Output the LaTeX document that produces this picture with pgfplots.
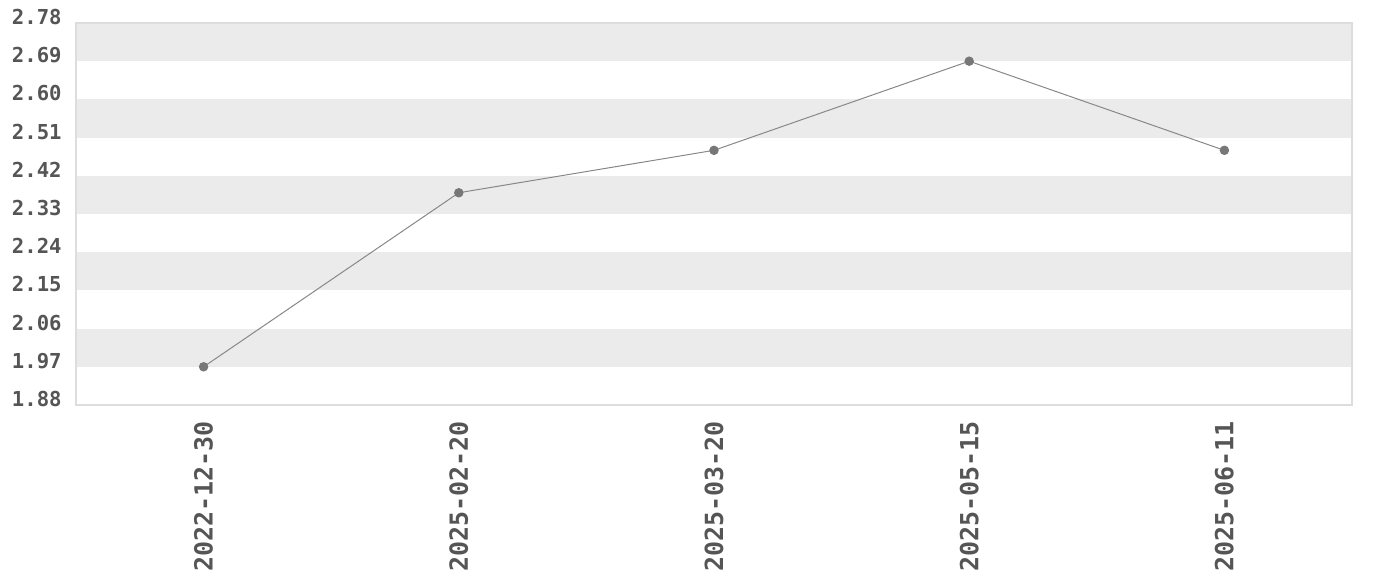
\documentclass[border=0pt]{standalone}
\usepackage{fontspec}
\setmonofont{DejaVu Sans Mono}
\usepackage{pgfplots}
\pgfplotsset{compat=1.18}
\usetikzlibrary{calc}
\definecolor{band}{HTML}{EBEBEB}
\definecolor{frame}{HTML}{DDDDDD}
\definecolor{txt}{HTML}{555555}
\definecolor{ln}{HTML}{888888}
\definecolor{mk}{HTML}{777777}

\pgfplotstableread{
idx val
0 1.97
1 2.38
2 2.48
3 2.69
4 2.48
}\series

\begin{document}
\begin{tikzpicture}
\begin{axis}[
  scale only axis,
  width=638pt, height=191pt,
  xmin=-0.5, xmax=4.5,
  ymin=1.88, ymax=2.78,
  xtick={0,1,2,3,4},
  xticklabels={2022-12-30,2025-02-20,2025-03-20,2025-05-15,2025-06-11},
  ytick={1.88,1.97,2.06,2.15,2.24,2.33,2.42,2.51,2.60,2.69,2.78},
  yticklabels={1.88,1.97,2.06,2.15,2.24,2.33,2.42,2.51,2.60,2.69,2.78},
  major tick length=0pt,
  axis line style={draw=frame, line width=0.6pt},
  xticklabel style={rotate=90, anchor=east, font=\ttfamily\bfseries\fontsize{12.5}{14}\selectfont, text=txt, inner sep=0pt, xshift=-8pt},
  yticklabel style={anchor=east, font=\ttfamily\bfseries\fontsize{10.3}{12}\selectfont, text=txt, inner sep=0pt, xshift=-7pt, yshift=3pt},
  clip=false,
]
  \foreach \lo/\hi in {2.69/2.78,2.51/2.60,2.33/2.42,2.15/2.24,1.97/2.06}{
    \edef\tmp{\noexpand\fill[band] (axis cs:-0.5,\lo) rectangle (axis cs:4.5,\hi);}
    \tmp
  }
  \draw[frame, line width=0.6pt] (rel axis cs:0,0) rectangle (rel axis cs:1,1);
  \addplot[color=ln, line width=0.5pt, mark=*, mark size=2.1pt,
    mark options={fill=mk, draw=mk}] table[x=idx, y=val] {\series};
\end{axis}
\pgfresetboundingbox
\useasboundingbox ($(current axis.south west)+(-38pt,-87.5pt)$) rectangle ($(current axis.north east)+(14pt,11.5pt)$);
\end{tikzpicture}
\end{document}
